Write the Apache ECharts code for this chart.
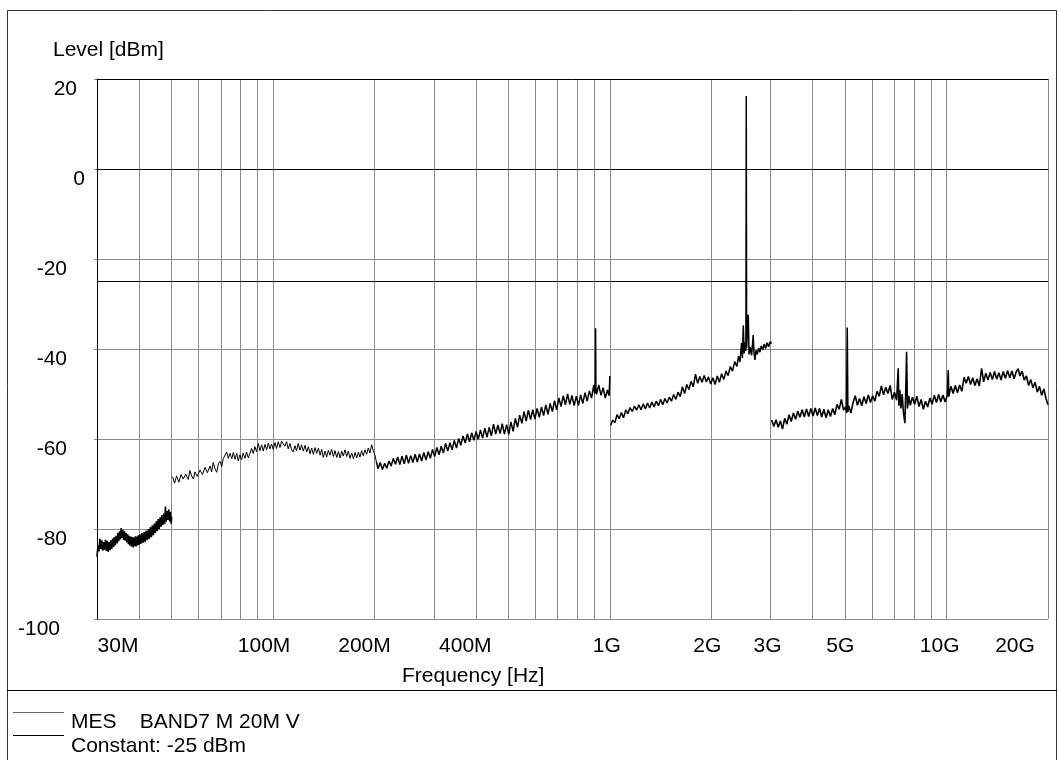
<!DOCTYPE html>
<html>
<head>
<meta charset="utf-8">
<script src="https://cdn.jsdelivr.net/npm/echarts@6.0.0/dist/echarts.min.js"></script>
<style>
html,body{margin:0;padding:0;background:#fff;}
#chart{width:1059px;height:760px;}
</style>
</head>
<body>
<div id="chart"></div>
<script>
// ---------- DATA (frequency in MHz, level in dBm) ----------
const gridFreqsMHz = [40,50,60,70,80,90,100,200,300,400,500,600,700,800,900,1000,2000,3000,4000,5000,6000,7000,8000,9000,10000,20000];
const labelFreqsMHz = [30,100,200,400,1000,2000,3000,5000,10000,20000];
const labelTexts = ['30M','100M','200M','400M','1G','2G','3G','5G','10G','20G'];
const yTickValues = [20,0,-20,-40,-60,-80,-100];
const limitLine = [[30,-25],[20000,-25]];

const band1 = [
[30.0,-86.2],[30.2,-83.6],[30.4,-85.0],[30.6,-82.2],[30.8,-84.4],[31.0,-82.5],[31.2,-84.8],[31.4,-82.9],
[31.6,-84.6],[31.8,-82.4],[32.0,-84.9],[32.2,-82.6],[32.4,-85.1],[32.6,-82.9],[32.8,-84.7],[33.0,-82.5],
[33.2,-84.4],[33.4,-82.1],[33.6,-84.0],[33.8,-81.8],[34.0,-83.6],[34.2,-81.5],[34.4,-83.2],[34.6,-80.9],
[34.8,-82.7],[35.0,-80.5],[35.2,-82.3],[35.4,-79.8],[35.6,-82.0],[35.8,-80.2],[36.0,-82.4],[36.2,-80.5],
[36.4,-82.6],[36.6,-80.9],[36.8,-83.0],[37.0,-81.2],[37.2,-83.4],[37.4,-81.5],[37.6,-83.7],[37.8,-81.7],
[38.0,-83.9],[38.2,-81.8],[38.4,-84.1],[38.6,-81.9],[38.8,-83.8],[39.0,-81.6],[39.2,-83.9],[39.4,-81.7],
[39.6,-83.6],[39.8,-81.4],[40.0,-83.5],[40.2,-81.2],[40.5,-83.3],[40.8,-80.9],[41.1,-83.1],[41.4,-80.7],
[41.7,-82.9],[42.0,-80.4],[42.3,-82.5],[42.6,-80.0],[42.9,-82.2],[43.2,-79.6],[43.5,-81.8],[43.8,-79.2],
[44.1,-81.4],[44.4,-78.8],[44.7,-80.9],[45.0,-78.3],[45.3,-80.5],[45.6,-77.8],[45.9,-80.0],[46.2,-77.4],
[46.5,-79.5],[46.8,-76.9],[47.1,-79.1],[47.4,-76.5],[47.7,-78.8],[47.9,-75.0],[48.1,-78.4],[48.4,-76.0],
[48.7,-78.0],[49.0,-75.6],[49.3,-78.3],[49.6,-76.2],[49.8,-78.8],[50.0,-77.3]
];

const band2a = [
[50.3,-68.4],[51.0,-69.8],[51.7,-68.2],[52.5,-69.6],[53.3,-67.9],[54.1,-68.9],[55.0,-67.8],[56.0,-69.0],
[56.6,-67.0],[57.3,-68.2],[58.0,-68.9],[58.6,-67.3],[59.5,-68.3],[60.7,-66.9],[61.7,-67.9],[62.8,-66.3],
[63.8,-67.5],[65.0,-66.0],[65.7,-67.3],[66.4,-65.2],[67.2,-66.6],[68.0,-67.4],[68.8,-65.5],[69.6,-65.0],
[70.4,-66.1],[71.1,-64.4],[72.0,-64.0],[72.8,-62.9],[73.6,-64.3],[74.5,-63.2],[75.4,-64.4],[76.2,-63.0],
[77.1,-64.5],[78.0,-63.2],[78.8,-64.9],[79.7,-63.5],[80.6,-64.6],[81.5,-63.1],[82.5,-64.3],[83.4,-62.9],
[84.4,-64.2],[85.4,-63.2],[86.3,-62.1],[87.3,-63.2],[88.3,-61.7],[89.3,-62.8],[90.4,-61.0],[91.4,-62.6],
[92.5,-61.3],[93.5,-62.7],[94.6,-61.2],[95.7,-62.4],[96.8,-60.9],[97.9,-62.2],[99.0,-61.1],[100.1,-62.3],
[101.3,-60.8],[102.4,-62.1],[103.6,-60.6],[104.8,-61.9],[106.0,-60.5],[107.2,-60.2],[108.4,-61.6],[109.7,-60.6],
[110.9,-62.2],[112.2,-61.0],[113.5,-62.4],[114.8,-62.9],[116.1,-61.5],[117.4,-62.6],[118.8,-61.0],[120.2,-62.5],
[121.5,-61.3],[122.9,-62.7],[124.4,-61.4],[125.8,-62.9],[127.3,-61.7],[128.7,-63.3],[130.2,-62.0],[131.7,-63.4],
[133.2,-61.9],[134.7,-63.2],[136.3,-62.0],[137.9,-63.6],[139.4,-62.3],[140.9,-64.1],[142.6,-62.7],[144.2,-64.0],
[145.9,-62.5],[147.5,-63.6],[149.2,-62.3],[151.0,-63.9],[152.7,-62.6],[154.5,-64.1],[156.3,-62.8],[158.1,-64.2],
[159.9,-62.7],[161.6,-63.8],[163.5,-62.4],[165.4,-63.9],[167.3,-62.7],[169.2,-64.3],[171.2,-63.1],[173.2,-64.4],
[175.2,-63.0],[177.2,-64.2],[179.2,-62.9],[181.1,-64.0],[183.2,-62.6],[185.3,-63.7],[187.4,-62.4],[189.6,-63.4],
[191.7,-62.0],[193.9,-63.1],[196.2,-61.3],[198.4,-62.6],[200.7,-63.6],[202.5,-65.0]
];

const band2b = [
[202.5,-65.0],
[205,-66.6],[208,-65.2],[211.2,-66.8],[214.4,-65.4],[217.6,-66.5],[220.9,-64.9],[224.2,-66.0],[227.5,-64.3],
[230.9,-65.6],[234.4,-64.0],[237.9,-65.7],[241.5,-63.8],[245.1,-65.5],[248.8,-63.6],[252.5,-65.4],[256.3,-63.7],
[260.2,-65.2],[264.1,-63.4],[268,-65.1],[272,-63.3],[276.1,-64.9],[280.3,-63.0],[284.5,-64.7],[288.8,-62.8],
[293.1,-64.3],[297.5,-62.3],[301.9,-63.9],[306.5,-61.9],[311.1,-63.5],[315.7,-61.6],[320.5,-63.1],[325.3,-61.0],
[330.2,-62.7],[335.1,-60.8],[340.1,-62.4],[345.2,-60.3],[350.4,-62.0],[355.7,-59.9],[361,-61.4],[366.4,-59.3],
[371.9,-60.9],[377.5,-58.9],[383.2,-60.6],[388.9,-58.6],[394.8,-60.3],[400.7,-58.3],[406.7,-60.1],[412.8,-58.0],
[419,-59.8],[425.3,-57.6],[431.7,-59.6],[438.2,-57.4],[444.7,-59.3],[451.4,-56.7],[458.2,-58.9],[465.1,-56.9],
[472.1,-58.8],[479.1,-56.6],[486.3,-58.9],[493.6,-56.8],[501,-59.0],[508.5,-56.2],[516.2,-58.3],[523.9,-55.4],
[531.8,-57.4],[539.8,-54.7],[547.9,-56.5],[556.1,-53.9],[564.4,-56.0],[572.9,-53.6],[581.5,-55.7],[590.2,-53.5],
[599.1,-55.6],[608.1,-53.2],[617.2,-55.2],[626.4,-52.9],[635.8,-54.8],[645.4,-52.4],[655.1,-54.5],[664.9,-52.1],
[674.9,-53.9],[685,-51.5],[695.3,-53.5],[705.7,-50.9],[716.3,-52.8],[727.1,-50.4],[738,-52.4],[749.1,-50.0],
[760.3,-52.3],[771.7,-50.3],[783.3,-52.6],[795,-50.5],[806.9,-52.5],[819,-50.2],[831.3,-52.1],[843.8,-49.7],
[856.5,-51.6],[869.3,-49.3],[882.4,-50.9],[895.6,-48.0],[902,-49.9],[905,-48.4],[907,-35.4],[909,-48.6],
[913,-50.1],[927,-48.0],[941,-50.3],[955,-48.6],[969,-50.9],[984,-49.1],[995,-50.4],[1000,-46.0]
];

const band3 = [
[1005,-57.0],[1020,-55.8],[1035,-56.4],[1050,-54.6],[1066,-55.5],[1082,-54.1],[1098,-55.3],[1115,-53.5],
[1131,-54.4],[1148,-53.0],[1166,-53.9],[1183,-52.7],[1201,-53.6],[1219,-52.4],[1237,-53.5],[1256,-52.2],
[1275,-53.3],[1294,-52.0],[1313,-53.1],[1333,-51.8],[1353,-52.9],[1373,-51.6],[1394,-52.6],[1415,-51.2],
[1436,-52.4],[1457,-51.0],[1479,-52.0],[1501,-50.7],[1524,-51.6],[1547,-50.1],[1570,-51.2],[1594,-49.6],
[1618,-50.6],[1642,-48.4],[1667,-49.9],[1692,-47.9],[1717,-49.0],[1743,-47.2],[1769,-48.4],[1796,-45.6],
[1823,-47.6],[1850,-46.1],[1878,-47.4],[1906,-45.9],[1934,-47.3],[1963,-46.2],[1993,-47.8],[2023,-46.4],
[2053,-47.9],[2084,-46.0],[2115,-47.4],[2147,-45.5],[2179,-46.8],[2212,-44.9],[2245,-45.9],[2279,-43.9],
[2313,-44.9],[2348,-42.8],[2383,-43.9],[2410,-41.6],[2434,-42.9],[2460,-38.7],[2475,-42.0],[2490,-34.7],
[2505,-41.0],[2520,-38.5],[2535,-40.4],[2541,16.2],[2548,-39.8],[2560,-36.3],[2576,-32.4],[2590,-41.2],
[2610,-39.6],[2636,-41.4],[2665,-36.9],[2680,-41.0],[2697,-42.4],[2715,-40.3],[2740,-41.2],[2765,-39.8],
[2790,-40.7],[2815,-39.3],[2845,-40.2],[2870,-38.9],[2900,-39.9],[2930,-38.6],[2960,-39.5],[2990,-38.4],
[3023,-38.8]
];

const band4 = [
[3023,-55.8],[3068,-57.2],[3114,-55.7],[3161,-57.4],[3208,-56.0],[3256,-57.8],[3305,-55.4],[3355,-56.7],
[3405,-54.6],[3456,-56.1],[3508,-54.2],[3561,-55.6],[3614,-53.8],[3668,-55.2],[3723,-53.5],[3779,-55.1],
[3836,-53.3],[3894,-55.0],[3952,-53.2],[4011,-54.9],[4071,-53.1],[4132,-54.8],[4194,-53.2],[4257,-55.1],
[4321,-53.4],[4386,-55.3],[4452,-53.5],[4519,-55.0],[4587,-53.2],[4656,-54.6],[4726,-52.3],[4797,-53.4],
[4869,-51.2],[4942,-53.6],[5016,-52.8],[5045,-54.2],[5068,-35.2],[5090,-54.0],[5120,-52.6],[5197,-54.2],
[5275,-51.9],[5354,-50.4],[5434,-52.5],[5516,-51.0],[5599,-52.6],[5683,-50.6],[5768,-52.1],[5855,-50.2],
[5943,-51.9],[6032,-50.4],[6122,-51.6],[6214,-49.4],[6307,-50.5],[6402,-48.2],[6498,-50.2],[6595,-48.5],
[6694,-49.9],[6795,-48.1],[6897,-51.2],[7000,-49.6],[7105,-51.4],[7182,-44.3],[7215,-52.6],[7260,-49.1],
[7320,-53.2],[7380,-50.0],[7440,-54.0],[7518,-56.5],[7560,-49.6],[7605,-40.6],[7650,-53.2],[7720,-50.4],
[7800,-52.5],[7917,-50.7],[8036,-52.3],[8157,-50.5],[8279,-52.8],[8403,-51.2],[8529,-53.4],[8657,-51.6],
[8787,-52.9],[8919,-50.9],[9053,-52.3],[9189,-50.3],[9327,-51.9],[9467,-50.1],[9609,-51.7],[9753,-50.2],
[9899,-51.8],[10047,-50.3],[10110,-44.7],[10150,-50.6],[10300,-48.3],[10455,-49.9],[10612,-48.1],[10771,-49.7],
[10933,-48.0],[11097,-49.4],[11263,-46.3],[11432,-47.6],[11604,-46.1],[11778,-47.9],[11955,-46.4],[12134,-48.1],
[12316,-46.6],[12501,-48.2],[12703,-44.3],[12880,-47.3],[13073,-45.4],[13269,-46.9],[13468,-45.2],[13670,-46.8],
[13875,-45.0],[14083,-46.7],[14294,-45.3],[14509,-46.9],[14726,-45.0],[14947,-46.5],[15171,-44.8],[15399,-46.4],
[15630,-44.9],[15864,-46.6],[16102,-45.0],[16314,-44.4],[16500,-46.0],[16750,-44.9],[17000,-46.9],[17255,-46.0],
[17514,-48.1],[17777,-46.8],[18043,-48.6],[18314,-47.4],[18589,-49.6],[18868,-48.3],[19151,-50.3],[19438,-48.9],
[19730,-51.0],[20000,-52.4]
];

// ---------- STYLE ----------
const FONT = "'Liberation Sans', Arial, Helvetica, sans-serif";
const FS = 21;
const GRID_COLOR = '#8a8a8a';

// per-label horizontal nudges (padding) to mimic the original label placement
const xLabelPad = [[0,0,0,42],[0,18,0,0],[0,20,0,0],[0,21,0,0],[0,6,0,0],[0,8,0,0],[0,6,0,0],[0,10,0,0],[0,14,0,0],[0,66,0,0]];
const xRich = {};
xLabelPad.forEach((p, i) => { xRich['x' + i] = {fontSize: FS, fontFamily: FONT, color: '#000', padding: p}; });

const yPad = {'20': 8, '0': 0, '-100': 25};
const yRich = {};
yTickValues.forEach((v, i) => {
  const r = (yPad[String(v)] !== undefined) ? yPad[String(v)] : 18;
  yRich['y' + i] = {fontSize: FS, fontFamily: FONT, color: '#000', padding: [21, r, 0, 0]};
});

function xFmt(v) {
  for (let i = 0; i < labelFreqsMHz.length; i++) {
    if (Math.abs(Math.log10(v) - Math.log10(labelFreqsMHz[i])) < 1e-4) return '{x' + i + '|' + labelTexts[i] + '}';
  }
  return '';
}
function yFmt(v) {
  const i = yTickValues.indexOf(Math.round(v));
  return i >= 0 ? '{y' + i + '|' + yTickValues[i] + '}' : '';
}

function traceSeries(data, w) {
  return {type: 'line', data: data, showSymbol: false, symbol: 'none', z: 10,
          lineStyle: {color: '#000', width: w}, itemStyle: {color: '#000'}, silent: true, animation: false};
}

const chart = echarts.init(document.getElementById('chart'), null, {renderer: 'canvas'});
chart.setOption({
  animation: false,
  backgroundColor: '#fff',
  textStyle: {fontFamily: FONT},
  title: [
    {text: 'Level [dBm]', left: 53, top: 40, padding: 0,
     textStyle: {fontSize: FS, fontWeight: 'normal', color: '#000', fontFamily: FONT}},
    {text: 'Frequency [Hz]', left: 402, top: 666, padding: 0,
     textStyle: {fontSize: FS, fontWeight: 'normal', color: '#000', fontFamily: FONT}}
  ],
  grid: {left: 97, right: 11, top: 79, bottom: 141, outerBoundsMode: 'none', containLabel: false},
  xAxis: [
    {type: 'log', logBase: 10, min: 30, max: 20000, z: 5,
     axisLine: {show: true, lineStyle: {color: '#000', width: 1}},
     axisTick: {show: false, customValues: gridFreqsMHz},
     splitLine: {show: true, lineStyle: {color: GRID_COLOR, width: 1}},
     minorTick: {show: false}, minorSplitLine: {show: false},
     axisLabel: {show: true, customValues: labelFreqsMHz, interval: 0, margin: 17,
                 formatter: xFmt, rich: xRich, hideOverlap: false}},
    {type: 'log', logBase: 10, min: 30, max: 20000, position: 'top', z: 5,
     axisLine: {show: true, lineStyle: {color: '#000', width: 1}},
     axisTick: {show: false}, splitLine: {show: false}, axisLabel: {show: false}}
  ],
  yAxis: {type: 'value', min: -100, max: 20, interval: 20, z: 4,
    axisLine: {show: true, lineStyle: {color: '#000', width: 1}},
    axisTick: {show: true, length: 3, lineStyle: {color: GRID_COLOR}},
    splitLine: {show: true, lineStyle: {color: GRID_COLOR, width: 1}},
    axisLabel: {margin: 12, formatter: yFmt, rich: yRich}},
  series: [
    traceSeries(band1, 1.6), traceSeries(band2a, 1.0), traceSeries(band2b, 1.5),
    traceSeries(band3, 1.5), traceSeries(band4, 1.6),
    {type: 'line', data: limitLine, showSymbol: false, symbol: 'none', z: 9, silent: true,
     lineStyle: {color: '#000', width: 1}}
  ],
  graphic: [
    {type: 'rect', shape: {x: 7.5, y: 10.5, width: 1049, height: 760}, style: {fill: 'none', stroke: '#333', lineWidth: 1}, silent: true},
    {type: 'line', shape: {x1: 7, y1: 690.5, x2: 1057, y2: 690.5}, style: {stroke: '#000', lineWidth: 1}, silent: true},
    {type: 'line', shape: {x1: 13, y1: 712.5, x2: 64, y2: 712.5}, style: {stroke: '#666', lineWidth: 1}, silent: true},
    {type: 'line', shape: {x1: 13, y1: 735.5, x2: 64, y2: 735.5}, style: {stroke: '#000', lineWidth: 1}, silent: true},
    {type: 'text', x: 71, y: 722, silent: true,
     style: {text: 'MES    BAND7 M 20M V', fill: '#000', font: FS + 'px ' + FONT, verticalAlign: 'middle', textVerticalAlign: 'middle'}},
    {type: 'text', x: 71, y: 746, silent: true,
     style: {text: 'Constant: -25 dBm', fill: '#000', font: FS + 'px ' + FONT, verticalAlign: 'middle', textVerticalAlign: 'middle'}}
  ]
});
</script>
</body>
</html>
